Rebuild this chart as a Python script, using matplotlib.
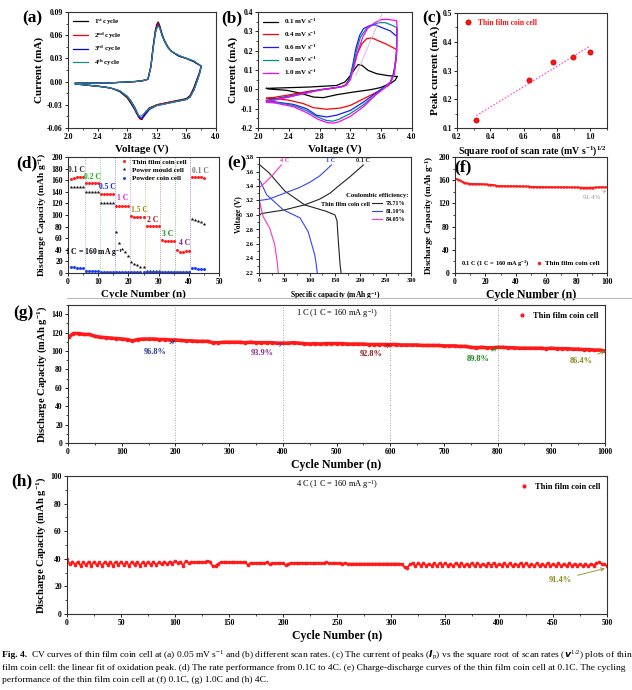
import numpy as np
import matplotlib
matplotlib.use('Agg')
import matplotlib.pyplot as plt
from matplotlib.ticker import AutoMinorLocator, FormatStrFormatter
from matplotlib.lines import Line2D

plt.rcParams['font.family'] = ['Liberation Serif', 'DejaVu Serif']
plt.rcParams['font.weight'] = 'bold'
plt.rcParams['axes.labelweight'] = 'bold'
plt.rcParams['mathtext.default'] = 'regular'
plt.rcParams['axes.unicode_minus'] = False
plt.rcParams['axes.linewidth'] = 0.8
plt.rcParams['axes.edgecolor'] = '#333333'
for k in ['xtick', 'ytick']:
    plt.rcParams[k + '.direction'] = 'out'
    plt.rcParams[k + '.major.size'] = 2.2
    plt.rcParams[k + '.minor.size'] = 1.3
    plt.rcParams[k + '.major.width'] = 0.6
    plt.rcParams[k + '.minor.width'] = 0.5
    plt.rcParams[k + '.major.pad'] = 1.5
    plt.rcParams[k + '.labelsize'] = 5.5

# ---------------- data ----------------
# (a) CV at 0.05 mV/s, 4 cycles
a_v_fwd = [2.10, 2.30, 2.50, 2.70, 2.90, 3.00, 3.08, 3.12, 3.15, 3.18, 3.20,
           3.22, 3.24, 3.27, 3.30, 3.35, 3.40, 3.50, 3.60, 3.70, 3.80]
a_v_rev = [3.80, 3.78, 3.75, 3.70, 3.65, 3.60, 3.50, 3.40, 3.30, 3.20, 3.10,
           3.05, 3.02, 3.00, 2.97, 2.95, 2.92, 2.90, 2.85, 2.80, 2.70, 2.60,
           2.50, 2.30, 2.10]
a_fwd = [
    [-0.002, -0.002, -0.002, -0.001, 0.000, 0.001, 0.003, 0.020, 0.045, 0.066, 0.074,
     0.077, 0.072, 0.062, 0.054, 0.045, 0.039, 0.033, 0.030, 0.026, 0.020],
    [-0.002, -0.002, -0.002, -0.001, 0.000, 0.001, 0.003, 0.019, 0.044, 0.064, 0.072,
     0.075, 0.071, 0.061, 0.053, 0.044, 0.039, 0.033, 0.030, 0.026, 0.020],
    [-0.002, -0.002, -0.002, -0.001, 0.000, 0.001, 0.003, 0.019, 0.043, 0.063, 0.070,
     0.073, 0.070, 0.060, 0.053, 0.044, 0.039, 0.033, 0.030, 0.026, 0.020],
    [-0.002, -0.002, -0.002, -0.001, 0.000, 0.001, 0.003, 0.019, 0.043, 0.062, 0.069,
     0.072, 0.069, 0.060, 0.053, 0.044, 0.039, 0.034, 0.030, 0.027, 0.020],
]
a_rev = [
    [0.020, 0.013, 0.005, -0.008, -0.018, -0.022, -0.024, -0.026, -0.028, -0.030, -0.034,
     -0.039, -0.045, -0.049, -0.048, -0.045, -0.040, -0.036, -0.028, -0.021, -0.013, -0.009,
     -0.007, -0.005, -0.003],
    [0.020, 0.012, 0.003, -0.010, -0.019, -0.023, -0.025, -0.026, -0.028, -0.030, -0.035,
     -0.041, -0.046, -0.048, -0.048, -0.044, -0.038, -0.034, -0.026, -0.020, -0.012, -0.009,
     -0.007, -0.005, -0.003],
    [0.020, 0.011, 0.002, -0.011, -0.020, -0.023, -0.025, -0.027, -0.029, -0.031, -0.036,
     -0.042, -0.045, -0.047, -0.047, -0.043, -0.037, -0.033, -0.025, -0.019, -0.012, -0.009,
     -0.007, -0.005, -0.003],
    [0.020, 0.011, 0.002, -0.011, -0.020, -0.023, -0.025, -0.027, -0.029, -0.031, -0.035,
     -0.039, -0.042, -0.044, -0.045, -0.043, -0.038, -0.034, -0.025, -0.019, -0.012, -0.009,
     -0.007, -0.005, -0.003],
]
a_labels = ['1$^{st}$ cycle', '2$^{nd}$ cycle', '3$^{rd}$ cycle', '4$^{th}$ cycle']
a_colors = ['#000000', '#ff0000', '#0000ff', '#1f8a8a']

# (b) CV at different scan rates
b_labels = ['0.1 mV s$^{-1}$', '0.4 mV s$^{-1}$', '0.6 mV s$^{-1}$', '0.8 mV s$^{-1}$', '1.0 mV s$^{-1}$']
b_colors = ['#000000', '#ff0000', '#1a1aff', '#008b8b', '#ff00ff']
b_v = [
    [2.11, 2.67, 3.02, 3.13, 3.20, 3.26, 3.30, 3.35, 3.43, 3.54, 3.67, 3.78, 3.81,
     3.78, 3.72, 3.59, 3.46, 3.24, 3.02, 2.85, 2.72, 2.54, 2.37, 2.13, 2.11],
    [2.11, 2.37, 2.67, 2.93, 3.11, 3.15, 3.20, 3.24, 3.28, 3.35, 3.41, 3.48, 3.57, 3.67, 3.78, 3.80,
     3.79, 3.75, 3.70, 3.59, 3.46, 3.33, 3.20, 3.07, 2.89, 2.72, 2.59, 2.41, 2.24, 2.11],
    [2.11, 2.46, 2.80, 3.07, 3.14, 3.19, 3.23, 3.27, 3.32, 3.37, 3.46, 3.52, 3.61, 3.72, 3.80,
     3.80, 3.76, 3.72, 3.63, 3.52, 3.37, 3.20, 3.02, 2.89, 2.76, 2.63, 2.46, 2.24, 2.11],
    [2.11, 2.46, 2.80, 3.07, 3.14, 3.19, 3.23, 3.28, 3.33, 3.40, 3.50, 3.58, 3.65, 3.72, 3.80,
     3.80, 3.77, 3.72, 3.63, 3.52, 3.37, 3.20, 3.05, 2.97, 2.88, 2.76, 2.63, 2.46, 2.24, 2.11],
    [2.11, 2.46, 2.80, 3.07, 3.15, 3.20, 3.25, 3.30, 3.36, 3.43, 3.52, 3.60, 3.68, 3.75, 3.80,
     3.81, 3.80, 3.77, 3.72, 3.63, 3.52, 3.37, 3.20, 3.05, 2.98, 2.90, 2.78, 2.63, 2.46, 2.24, 2.11],
]
b_i = [
    [0.005, 0.012, 0.020, 0.038, 0.072, 0.107, 0.128, 0.124, 0.098, 0.081, 0.072, 0.067, 0.067,
     0.047, 0.030, 0.009, -0.002, -0.014, -0.028, -0.043, -0.040, -0.019, -0.005, 0.002, 0.005],
    [-0.048, -0.031, -0.009, 0.003, 0.016, 0.029, 0.064, 0.116, 0.176, 0.236, 0.262, 0.266, 0.250,
     0.233, 0.210, 0.205,
     0.140, 0.064, 0.021, -0.005, -0.031, -0.057, -0.083, -0.097, -0.103, -0.095, -0.074,
     -0.057, -0.048, -0.045],
    [-0.057, -0.031, -0.002, 0.012, 0.021, 0.055, 0.124, 0.210, 0.279, 0.314, 0.331, 0.334,
     0.319, 0.302, 0.274,
     0.180, 0.080, 0.038, 0.009, -0.022, -0.066, -0.109, -0.134, -0.143, -0.134, -0.100,
     -0.078, -0.066, -0.060],
    [-0.060, -0.033, -0.003, 0.012, 0.022, 0.050, 0.110, 0.200, 0.270, 0.310, 0.335, 0.345,
     0.345, 0.335, 0.320,
     0.200, 0.080, 0.035, 0.005, -0.030, -0.080, -0.125, -0.155, -0.165, -0.160, -0.140,
     -0.110, -0.083, -0.068, -0.062],
    [-0.065, -0.035, -0.004, 0.012, 0.022, 0.050, 0.120, 0.200, 0.270, 0.320, 0.345, 0.360,
     0.362, 0.358, 0.355,
     0.300, 0.200, 0.080, 0.035, 0.003, -0.032, -0.090, -0.140, -0.168, -0.175, -0.172,
     -0.155, -0.120, -0.090, -0.072, -0.066],
]
b_guide_v = [3.27, 3.61]
b_guide_i = [0.072, 0.390]

# (c) peak current vs sqrt(scan rate)
c_sqrt_rate = [0.316, 0.632, 0.775, 0.894, 1.000]
c_peak = [0.128, 0.268, 0.330, 0.348, 0.363]

# (d) rate performance
d_cycles = list(range(1, 46))
d_thin = [162, 164, 165, 165, 165, 155, 155, 155, 155, 155,
          137, 137, 137, 137, 137, 116, 116, 116, 116, 115,
          98, 97, 97, 96, 96, 81, 81, 81, 81, 81,
          57, 56, 56, 55, 55, 40, 37, 37, 38, 38,
          165, 165, 165, 165, 164]
d_mould = [148, 148, 148, 148, 148, 140, 140, 140, 140, 139,
           120, 120, 120, 120, 120, 71, 52, 42, 36, 30,
           19, 16, 13, 11, 11, 4, 3, 3, 3, 3,
           1, 1, 1, 1, 1, 1, 1, 1, 1, 1,
           93, 91, 89, 88, 84]
d_powder = [11, 10, 9, 8, 8, 4, 4, 4, 4, 4,
            1, 1, 1, 1, 1, 1, 1, 1, 1, 1,
            1, 1, 1, 1, 1, 1, 1, 1, 1, 1,
            1, 1, 1, 1, 1, 1, 1, 1, 1, 1,
            8, 8, 7, 7, 7]
d_rates = ['0.1 C', '0.2 C', '0.5 C', '1 C', '1.5 C', '2 C', '3 C', '4 C', '0.1 C']
d_rate_x = [2.7, 8.2, 13.0, 18.0, 23.5, 28.0, 33.0, 38.5, 44.0]
d_rate_y = [178, 165, 148, 129, 108, 92, 68, 51, 176]
d_rate_colors = ['#333333', '#16b516', '#2020e0', '#e020e0', '#9a8a10', '#a01818', '#128c12', '#8a1a8a', '#777777']
d_bounds = [5.5, 10.5, 15.5, 20.5, 25.5, 30.5, 35.5, 40.5]
d_bound_colors = ['#9aa0c8', '#5ccc5c', '#7070ff', '#d070d0', '#c8a860', '#d07070', '#60b060', '#9060c0']

# (e) charge-discharge curves
e_chg_cap = [[0, 1, 5, 50, 90, 120, 140, 157, 180, 206],
             [0, 1, 20, 50, 80, 100, 120, 143],
             [0, 1, 11, 28, 44]]
e_chg_v = [[2.20, 3.00, 3.02, 3.07, 3.14, 3.22, 3.30, 3.40, 3.53, 3.69],
           [2.20, 3.20, 3.22, 3.30, 3.38, 3.45, 3.54, 3.69],
           [2.20, 3.38, 3.44, 3.56, 3.69]]
e_dis_cap = [[0, 20, 51, 90, 133, 150, 154, 156, 158, 160, 162],
             [0, 3, 15, 48, 81, 97, 110, 113, 115],
             [0, 1, 8, 21, 31, 36, 38]]
e_dis_v = [[3.70, 3.58, 3.33, 3.14, 3.05, 3.00, 2.92, 2.70, 2.50, 2.32, 2.20],
           [3.48, 3.46, 3.28, 3.07, 2.96, 2.77, 2.45, 2.32, 2.20],
           [3.20, 3.19, 2.98, 2.82, 2.59, 2.35, 2.20]]
e_labels = ['0.1 C', '1 C', '4 C']
e_colors = ['#222222', '#3344ee', '#ff33cc']
e_label_x = [206, 141, 51]
e_ce = ['78.71%', '81.10%', '84.05%']

# (f) 0.1 C cycling
f_cycles = list(range(1, 101))
f_cap = [162, 161, 160, 158, 157, 156, 155, 154.5, 154, 154,
         153.8, 153.8, 153.6, 153.6, 153.5, 153.4, 153.3, 153.2, 153, 152.8,
         152.6, 152.5, 152.3, 152.2, 152, 151.5, 150.5, 150.3, 150.2, 150.1,
         150, 150, 149.9, 149.9, 149.8, 149.8, 149.7, 149.7, 149.6, 149.6,
         149.5, 149.5, 149.4, 149.4, 149.3, 149.3, 149.2, 149.2, 149, 148.8,
         148.6, 148.5, 148.4, 148.4, 148.3, 148.3, 148.3, 148.2, 148.2, 148.2,
         148.1, 148.1, 148.1, 148, 148, 148, 148, 147.9, 147.9, 147.9,
         147.8, 147.8, 147.8, 147.7, 147.7, 147.7, 147.6, 147.6, 147.6, 147.5,
         147.5, 147.4, 147.4, 147.3, 147.3, 147.2, 147.2, 147.2, 147.3, 147.3,
         147.4, 147.5, 147.6, 147.7, 147.8, 147.9, 148, 148, 147.9, 147.8]

# (g) 1 C cycling (every 10 cycles)
g_cycles = [1] + list(range(10, 1001, 10))
g_cap = [115, 119, 119, 118, 118, 116, 115, 114.5, 114, 113.5,
         113, 112.5, 111, 112.5, 113, 113, 113, 112.5, 112.5, 112,
         112, 111.5, 111, 111, 110.5, 110.5, 110.5, 109, 109, 109.5,
         109.5, 109.5, 109.5, 109, 109.5, 109, 109, 109, 109, 108.5,
         108.5, 108.5, 109, 108.5, 108, 107.5, 108, 107.5, 108, 108,
         108, 108, 107.5, 107.5, 107.5, 107.5, 107, 107, 107, 107,
         107, 107, 106.5, 106.5, 106.5, 106.5, 106, 106, 106, 106,
         105.5, 105.5, 105.5, 105, 105, 104, 103.5, 104, 103.5, 103.5,
         104, 104, 103.5, 103.5, 103, 103, 103, 103, 103, 102.5,
         103, 102.5, 102.5, 102.5, 102, 102, 101.5, 101.5, 101, 101, 100]
g_marks = [200, 400, 600, 800]
g_ret = ['96.8%', '93.9%', '92.8%', '89.8%', '86.4%']
g_ret_xy = [(200, 111.5), (400, 108.5), (600, 107), (800, 104), (1000, 100)]
g_ret_txt = [(163, 99), (362, 98), (565, 97), (764, 91), (955, 89)]
g_ret_colors = ['#2b3a8c', '#8b2a8b', '#8b1a1a', '#1a8a1a', '#8b8b1a']

# (h) 4 C cycling (every 2.5 cycles)
h_cycles = np.arange(0, 502.5, 2.5)
h_cap = [39.5, 36, 38, 35.5, 38, 35, 37.5, 35.5, 38, 35, 38, 35.5, 37.5, 35, 38, 35.5, 38, 35, 38, 35.5,
         38, 35.5, 37.5, 35, 38, 35.5, 38, 35, 37.5, 35.5, 38, 35.5, 38, 35.5, 37.5, 36, 38, 36, 38, 36.5,
         38.5, 37, 38, 35, 38.5, 37, 37.5, 37.5, 37.5, 37.5, 37.5, 37.5, 38.5, 38, 34.5, 35, 36.5, 37.5, 37.5, 37.5,
         37.5, 37.5, 37.5, 37.5, 37.5, 37.5, 37.5, 35.5, 37, 37, 37, 37, 37, 37, 37.5, 36, 37, 37, 37, 37,
         37, 35.5, 36.5, 37, 37, 37, 37, 37, 37, 37, 37, 37, 37, 37, 37, 37, 37.5, 37, 37, 37,
         37, 37, 36.5, 37, 36.5, 36.5, 36.5, 36.5, 36.5, 36.5, 36.5, 36.5, 36.5, 36.5, 36.5, 36.5, 36.5, 36.5, 36.5, 36.5,
         36.5, 36.5, 36.5, 36.5, 36, 34, 33.5, 36, 37, 34.5, 37, 35, 37, 35, 36.5, 35, 37, 34.5, 37, 35,
         37, 35, 36.5, 34.5, 37, 35, 37, 34.5, 36.5, 35, 37, 34.5, 37, 35, 36.5, 34.5, 37, 35, 37, 34.5,
         36.5, 35, 37, 34.5, 37, 34.5, 36.5, 35, 37, 34.5, 37, 34.5, 36.5, 34.5, 37, 34.5, 36.5, 34.5, 37, 34.5,
         36.5, 34.5, 37, 34.5, 36.5, 34.5, 37, 34.5, 36.5, 34.5, 36.5, 34.5, 36.5, 34.5, 36.5, 35, 37, 37.5, 36.5, 36,
         35]

# ---------------- figure ----------------
W, H = 632, 690
fig = plt.figure(figsize=(W / 100, H / 100), dpi=100)


def add_ax(l, t, r, b):
    return fig.add_axes([l / W, 1 - b / H, (r - l) / W, (b - t) / H])


def ftext(x, y, s, **kw):
    fig.text(x / W, 1 - y / H, s, **kw)


def dot_handle(marker='o', ms=3):
    return Line2D([], [], ls='none', marker=marker, color='#ff1a1a', ms=ms, mew=0)


PL = dict(fontsize=12.5, fontweight='bold', va='center', ha='center')

# (a)
ax = add_ax(68, 12, 216, 128)
for k in range(4):
    ax.plot(a_v_fwd + a_v_rev, a_fwd[k] + a_rev[k], color=a_colors[k], lw=0.9, label=a_labels[k])
ax.set_xlim(2.0, 4.0)
ax.set_ylim(-0.06, 0.09)
ax.set_xticks([2.0, 2.4, 2.8, 3.2, 3.6, 4.0])
ax.set_yticks([-0.06, -0.03, 0.0, 0.03, 0.06, 0.09])
ax.yaxis.set_major_formatter(FormatStrFormatter('%.2f'))
ax.xaxis.set_minor_locator(AutoMinorLocator(2))
ax.yaxis.set_minor_locator(AutoMinorLocator(2))
ax.set_xlabel('Voltage (V)', fontsize=8, labelpad=2)
ax.set_ylabel('Current (mA)', fontsize=8, labelpad=2)
ax.legend(loc='upper left', fontsize=5, frameon=False, handlelength=2.2, labelspacing=0.5,
          borderaxespad=0.3)
ftext(32, 18, '(a)', **PL)

# (b)
ax = add_ax(258, 12, 412, 128)
for k in range(5):
    ax.plot(b_v[k], b_i[k], color=b_colors[k], lw=0.9, label=b_labels[k])
ax.plot(b_guide_v, b_guide_i, color='#e8a8e0', lw=0.6)
ax.set_xlim(2.0, 4.0)
ax.set_ylim(-0.2, 0.4)
ax.set_xticks([2.0, 2.4, 2.8, 3.2, 3.6, 4.0])
ax.set_yticks([-0.2, -0.1, 0.0, 0.1, 0.2, 0.3, 0.4])
ax.yaxis.set_major_formatter(FormatStrFormatter('%.1f'))
ax.xaxis.set_minor_locator(AutoMinorLocator(2))
ax.yaxis.set_minor_locator(AutoMinorLocator(2))
ax.set_xlabel('Voltage (V)', fontsize=8, labelpad=2)
ax.set_ylabel('Current (mA)', fontsize=8, labelpad=2)
ax.legend(loc='upper left', fontsize=5, frameon=False, handlelength=2.2, labelspacing=0.5,
          borderaxespad=0.3)
ftext(232, 18, '(b)', **PL)

# (c)
ax = add_ax(457, 13, 607, 128)
slope, icpt = np.polyfit(c_sqrt_rate, c_peak, 1)
fx = np.array([c_sqrt_rate[0], c_sqrt_rate[-1]])
ax.plot(fx, slope * fx + icpt, ls=(0, (1.5, 1.5)), color='#ff44cc', lw=0.8)
ax.plot(c_sqrt_rate, c_peak, 'o', color='#ff1010', mec='#b00000', mew=0.4, ms=3.8,
        label='Thin film coin cell')
ax.set_xlim(0.2, 1.1)
ax.set_ylim(0.1, 0.5)
ax.set_xticks([0.2, 0.4, 0.6, 0.8, 1.0])
ax.set_yticks([0.1, 0.2, 0.3, 0.4, 0.5])
ax.xaxis.set_minor_locator(AutoMinorLocator(2))
ax.yaxis.set_minor_locator(AutoMinorLocator(2))
ax.set_xlabel('Square roof of scan rate (mV s$^{-1}$)$^{1/2}$', fontsize=7, labelpad=2)
ax.set_ylabel('Peak current (mA)', fontsize=8, labelpad=2)
leg = ax.legend(loc='upper left', fontsize=5.5, frameon=False, handlelength=1.2, borderaxespad=0.4)
for t in leg.get_texts():
    t.set_color('#ff1010')
ftext(432, 18, '(c)', **PL)

# (d)
ax = add_ax(68, 157, 219, 273)
for xb, cb in zip(d_bounds, d_bound_colors):
    ax.axvline(xb, color=cb, lw=0.6, ls=(0, (1, 1.5)))
ax.plot(d_cycles, d_thin, 'o', color='#ff2020', ms=2.2, mew=0, label='Thin film coin cell')
ax.plot(d_cycles, d_mould, '*', color='#111111', ms=2.8, mew=0, label='Power mould cell')
ax.plot(d_cycles, d_powder, 'o', color='#2040ff', ms=2.2, mew=0, label='Powder coin cell')
for s, x, y, c in zip(d_rates, d_rate_x, d_rate_y, d_rate_colors):
    ax.text(x, y, s, color=c, fontsize=5.5, ha='center', va='center')
ax.text(8.5, 36, '1 C = 160 mA g$^{-1}$', fontsize=5.5, ha='center', va='center')
ax.set_xlim(0, 50)
ax.set_ylim(0, 200)
ax.set_xticks(range(0, 51, 10))
ax.set_yticks(range(0, 201, 20))
ax.xaxis.set_minor_locator(AutoMinorLocator(2))
ax.set_xlabel('Cycle Number (n)', fontsize=8, labelpad=2)
ax.set_ylabel('Discharge Capacity (mAh g$^{-1}$)', fontsize=6.8, labelpad=2)
ax.legend(loc='upper left', fontsize=5, frameon=False, handlelength=1.0, labelspacing=0.35,
          borderaxespad=0, borderpad=0, handletextpad=0.6, bbox_to_anchor=(0.35, 0.985))
ftext(27, 163, '(d)', **PL)

# (e)
ax = add_ax(259, 157, 411, 273)
for k in range(3):
    ax.plot(e_chg_cap[k], e_chg_v[k], color=e_colors[k], lw=0.8)
    ax.plot(e_dis_cap[k], e_dis_v[k], color=e_colors[k], lw=0.8)
    ax.text(e_label_x[k], 3.75, e_labels[k], color=e_colors[k], fontsize=4.5, ha='center', va='center')
ax.set_xlim(0, 300)
ax.set_ylim(2.2, 3.8)
ax.set_xticks(range(0, 301, 50))
ax.set_yticks([2.2, 2.4, 2.6, 2.8, 3.0, 3.2, 3.4, 3.6, 3.8])
ax.yaxis.set_major_formatter(FormatStrFormatter('%.1f'))
ax.xaxis.set_minor_locator(AutoMinorLocator(2))
ax.yaxis.set_minor_locator(AutoMinorLocator(2))
ax.tick_params(labelsize=4.5)
ax.set_xlabel('Specific capacity (mAh g$^{-1}$)', fontsize=5.5, labelpad=4)
ax.set_ylabel('Voltage (V)', fontsize=5.5, labelpad=2)
handles = [Line2D([], [], color=c, lw=0.8) for c in e_colors]
ax.legend(handles, e_ce, loc='upper left', bbox_to_anchor=(0.745, 0.625), fontsize=4.3,
          frameon=False, borderaxespad=0, borderpad=0, handlelength=1.7, labelspacing=0.5,
          handletextpad=0.6)
ax.text(234, 3.27, 'Coulombic efficiency:', fontsize=4.8, ha='center', va='center')
ax.text(219, 3.14, 'Thin film coin cell', fontsize=4.5, ha='right', va='center')
ftext(237, 163, '(e)', **PL)

# (f)
ax = add_ax(455, 157, 607, 273)
ax.plot(f_cycles, f_cap, 'o-', color='#ff1a1a', ms=1.6, lw=1.2, mew=0)
ax.annotate('91.4%', xy=(99.5, 142), xytext=(90, 131), color='#999999', fontsize=5,
            fontweight='normal', ha='center', va='center',
            arrowprops=dict(arrowstyle='->', color='#aaaaaa', lw=0.5, shrinkA=0, shrinkB=0))
ax.text(4, 17, '0.1 C (1 C = 160 mA g$^{-1}$)', fontsize=4.6, va='center')
ax.set_xlim(0, 100)
ax.set_ylim(0, 200)
ax.set_xticks(range(0, 101, 20))
ax.set_yticks(range(0, 201, 40))
ax.xaxis.set_minor_locator(AutoMinorLocator(2))
ax.yaxis.set_minor_locator(AutoMinorLocator(2))
ax.set_xlabel('Cycle Number (n)', fontsize=8.5, labelpad=2)
ax.set_ylabel('Discharge Capacity (mAh g$^{-1}$)', fontsize=6.6, labelpad=2)
ax.legend([dot_handle(ms=2.5)], ['Thin film coin cell'], loc='lower right', fontsize=5,
          frameon=False, handlelength=0.8, handletextpad=0.5, borderaxespad=0.6)
ftext(463, 167, '(f)', **PL)

# (g)
ax = add_ax(68, 305, 605, 443)
for xm in g_marks:
    ax.axvline(xm, color='#888888', lw=0.6, ls=(0, (1, 2)))
ax.plot(g_cycles, g_cap, 'o-', color='#ff1a1a', ms=2.6, lw=2.6, mew=0)
for s, xy, xt, c in zip(g_ret, g_ret_xy, g_ret_txt, g_ret_colors):
    ax.annotate(s, xy=xy, xytext=xt, color=c, fontsize=6, ha='center', va='center',
                arrowprops=dict(arrowstyle='->', color=c, lw=0.6, shrinkA=2, shrinkB=0))
ax.text(500, 141, '1 C (1 C = 160 mA g$^{-1}$)', fontsize=6, fontweight='normal',
        ha='center', va='center')
ax.set_xlim(0, 1000)
ax.set_ylim(0, 150)
ax.set_xticks(range(0, 1001, 100))
ax.set_yticks(range(0, 141, 20))
ax.xaxis.set_minor_locator(AutoMinorLocator(2))
ax.yaxis.set_minor_locator(AutoMinorLocator(2))
ax.tick_params(labelsize=5.5)
ax.set_xlabel('Cycle Number (n)', fontsize=8.5, labelpad=2)
ax.set_ylabel('Discharge Capacity (mAh g$^{-1}$)', fontsize=7.6, labelpad=2)
ax.legend([dot_handle(ms=3)], ['Thin film coin cell'], loc='upper right', fontsize=6,
          frameon=False, handlelength=1.0, borderaxespad=0.4)
ftext(23, 313, '(g)', **PL)

# (h)
ax = add_ax(67, 476, 607, 614)
ax.plot(h_cycles, h_cap, 'o-', color='#ff1a1a', ms=2.6, lw=1.3, mew=0)
ax.annotate('91.4%', xy=(498, 33), xytext=(457, 25), color='#8b8b1a', fontsize=6,
            ha='center', va='center',
            arrowprops=dict(arrowstyle='->', color='#8b8b1a', lw=0.6, shrinkA=2, shrinkB=0))
ax.text(250, 94, '4 C (1 C = 160 mA g$^{-1}$)', fontsize=6, fontweight='normal',
        ha='center', va='center')
ax.set_xlim(0, 500)
ax.set_ylim(0, 100)
ax.set_xticks(range(0, 501, 50))
ax.set_yticks(range(0, 101, 20))
ax.xaxis.set_minor_locator(AutoMinorLocator(2))
ax.yaxis.set_minor_locator(AutoMinorLocator(2))
ax.tick_params(labelsize=5.5)
ax.set_xlabel('Cycle Number (n)', fontsize=8.5, labelpad=2)
ax.set_ylabel('Discharge Capacity (mAh g$^{-1}$)', fontsize=7.6, labelpad=2)
ax.legend([dot_handle(ms=3)], ['Thin film coin cell'], loc='upper right', fontsize=6,
          frameon=False, handlelength=1.0, borderaxespad=0.4)
ftext(22, 481, '(h)', **PL)

# separator line under the second row
fig.add_artist(Line2D([67 / W, 1.0], [1 - 298 / H, 1 - 298 / H], color='#bbbbbb', lw=0.8))

# caption
CAP = dict(fontsize=6.8, fontweight='normal', va='center', ha='left')
ftext(2, 655, 'Fig. 4.', **dict(CAP, fontweight='bold'))
ftext(31, 655, 'CV curves of thin film coin cell at (a) 0.05 mV s$^{-1}$ and (b) different scan rates. '
      '(c) The current of peaks ($\\mathit{I}_p$) vs the square root of scan rates ($\\mathit{v}^{1/2}$) '
      'plots of thin', **CAP)
ftext(2, 668, 'film coin cell: the linear fit of oxidation peak. (d) The rate performance from 0.1C to 4C. '
      '(e) Charge-discharge curves of the thin film coin cell at 0.1C. The cycling', **CAP)
ftext(2, 680, 'performance of the thin film coin cell at (f) 0.1C, (g) 1.0C and (h) 4C.', **CAP)

fig.savefig('out.png', dpi=100)
